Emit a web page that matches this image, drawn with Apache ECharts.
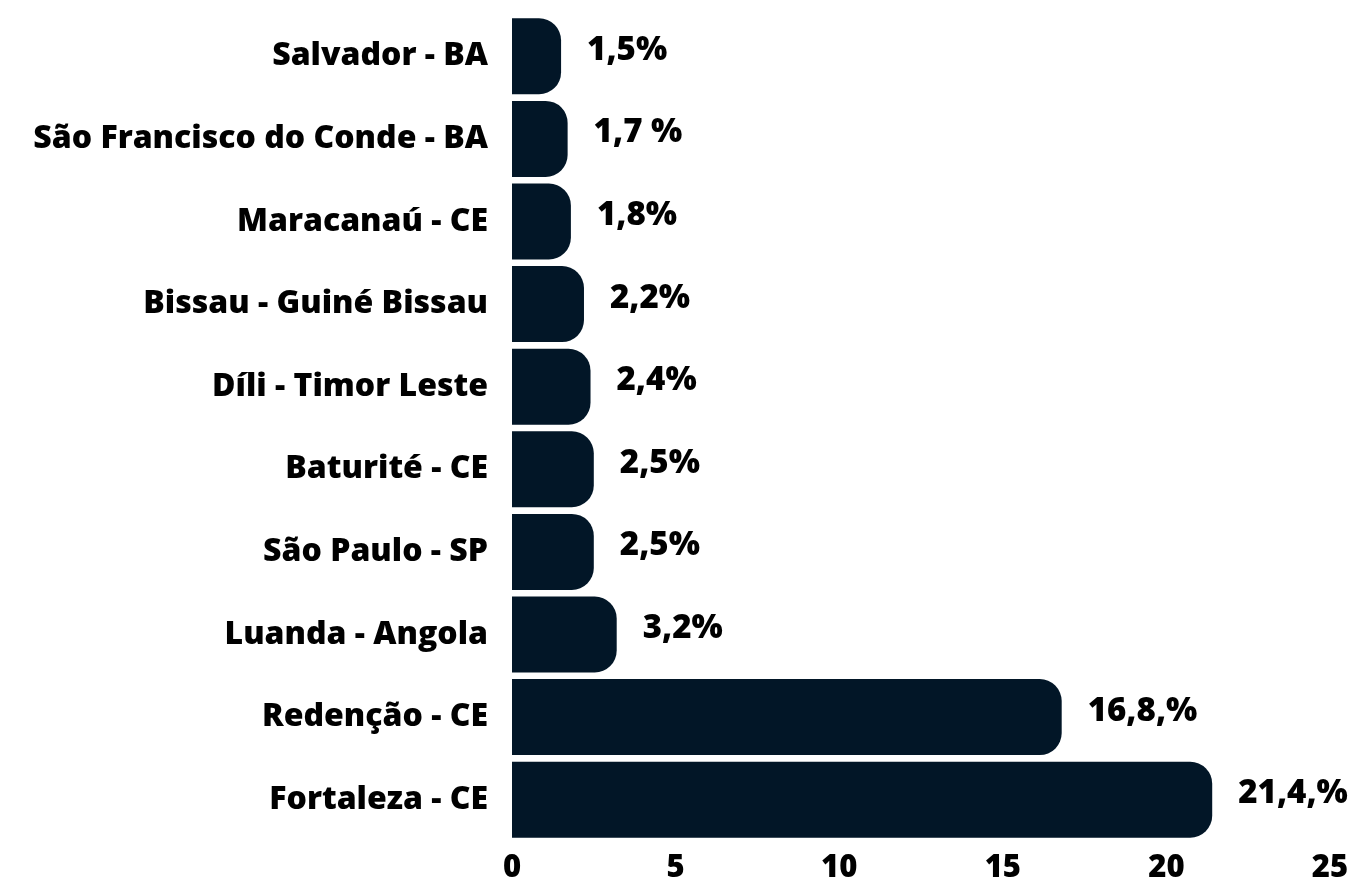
<!DOCTYPE html>
<html>
<head>
<meta charset="utf-8">
<script src="https://cdn.jsdelivr.net/npm/echarts@6/dist/echarts.min.js"></script>
<style>
  html, body { margin: 0; padding: 0; background: #ffffff; }
  #chart { width: 1365px; height: 886px; }
</style>
</head>
<body>
<div id="chart"></div>
<script>
// Cidades de origem (de cima para baixo)
const cities = [
  'Salvador - BA',
  'São Francisco do Conde - BA',
  'Maracanaú - CE',
  'Bissau - Guiné Bissau',
  'Díli - Timor Leste',
  'Baturité - CE',
  'São Paulo - SP',
  'Luanda - Angola',
  'Redenção - CE',
  'Fortaleza - CE'
];
// Percentual por cidade
const shares = [1.5, 1.7, 1.8, 2.2, 2.4, 2.5, 2.5, 3.2, 16.8, 21.4];
// Rótulos exibidos ao lado das barras
const shareLabels = ['1,5%', '1,7 %', '1,8%', '2,2%', '2,4%', '2,5%', '2,5%', '3,2%', '16,8,%', '21,4,%'];
// Marcas do eixo horizontal
const xTicks = [0, 5, 10, 15, 20, 25];

const FONT = '"Open Sans", "Noto Sans", sans-serif';
const INK = '#000000';
const BAR = '#021627';

const chart = echarts.init(document.getElementById('chart'));
chart.setOption({
  backgroundColor: '#ffffff',
  animation: false,
  grid: { left: 512, right: 35, top: 15, bottom: 45, containLabel: false },
  xAxis: {
    type: 'value',
    min: xTicks[0],
    max: xTicks[xTicks.length - 1],
    interval: xTicks[1] - xTicks[0],
    axisLine: { show: false },
    axisTick: { show: false },
    splitLine: { show: false },
    axisLabel: {
      color: INK, fontFamily: FONT, fontWeight: 800, fontSize: 31, margin: 12
    }
  },
  yAxis: {
    type: 'category',
    inverse: true,
    data: cities,
    axisLine: { show: false },
    axisTick: { show: false },
    axisLabel: {
      color: INK, fontFamily: FONT, fontWeight: 800, fontSize: 32, margin: 24
    }
  },
  series: [{
    type: 'bar',
    data: shares,
    barCategoryGap: '8%',
    itemStyle: { color: BAR, borderRadius: [0, 22, 22, 0] },
    label: {
      show: true,
      position: 'right',
      distance: 26,
      offset: [0, -6],
      color: INK,
      fontFamily: FONT,
      fontWeight: 800,
      fontSize: 33,
      formatter: p => shareLabels[p.dataIndex]
    }
  }]
});
</script>
</body>
</html>
